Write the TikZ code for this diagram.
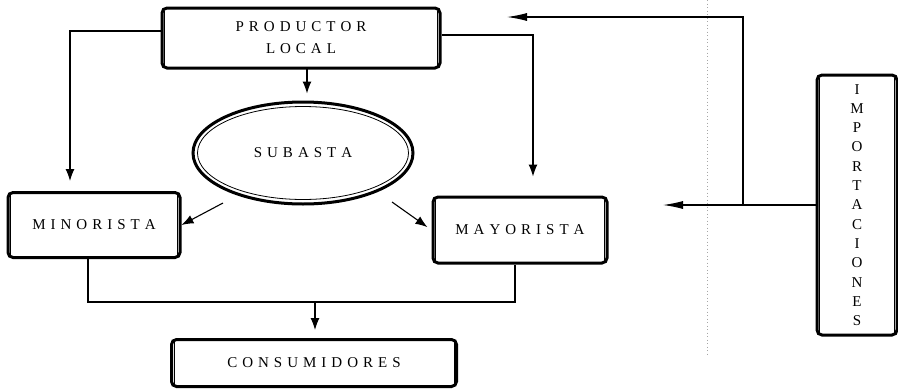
\documentclass[tikz,border=0pt]{standalone}
\usepackage{fontspec}
\setmainfont{Liberation Serif}
\usetikzlibrary{shapes.geometric,arrows.meta,calc}
\newlength\ltrsp \setlength\ltrsp{5pt}
\def\spaced#1{\spacedfirst#1\relax}
\def\spacedfirst#1{#1\spacedrest}
\def\spacedrest#1{\ifx#1\relax\else\kern\ltrsp#1\expandafter\spacedrest\fi}
\tikzset{
  boxnode/.style={draw, line width=3pt, rounded corners=5pt, inner sep=0pt,
    font=\fontsize{15}{22}\selectfont, align=center},
  conn/.style={line width=1.1pt},
  arr/.style={conn, -{Latex[length=12pt,width=9pt]}},
  longarr/.style={conn, -{Latex[length=20pt,width=8pt]}},
}
\begin{document}
\begin{tikzpicture}[x=1pt,y=-1pt]
\useasboundingbox (0,0) rectangle (898,389);
% dotted scan line
\draw[gray!70, line width=0.7pt, dash pattern=on 1pt off 2.5pt] (707,0) -- (707,355);
% nodes
\node[boxnode, minimum width=278pt, minimum height=60pt] (prod) at (301,38)
  {\spaced{PRODUCTOR}\\\spaced{LOCAL}};
\node[boxnode, minimum width=172pt, minimum height=65pt] (mino) at (94,225) {\spaced{MINORISTA}};
\node[boxnode, minimum width=174pt, minimum height=66pt] (mayo) at (520,230) {\spaced{MAYORISTA}};
\node[boxnode, minimum width=285pt, minimum height=47pt] (cons) at (314,363) {\spaced{CONSUMIDORES}};
\node[boxnode, minimum width=80pt, minimum height=260pt, font=\fontsize{15}{19.3}\selectfont] (imp) at (857,205)
  {I\\M\\P\\O\\R\\T\\A\\C\\I\\O\\N\\E\\S};
\node[draw, ellipse, line width=3pt, minimum width=220pt, minimum height=102pt, inner sep=0pt,
  font=\fontsize{15}{18}\selectfont] (sub) at (303,153) {\spaced{SUBASTA}};
% inner thin lines of double borders
\foreach \n in {prod,mino,mayo,cons,imp}{
  \draw[line width=0.8pt] ($(\n.north west)+(4,4)$) -- ($(\n.south west)+(4,-4)$);
  \draw[line width=0.8pt] ($(\n.north east)+(-4,4)$) -- ($(\n.south east)+(-4,-4)$);
}
\draw[line width=0.8pt] (sub.center) ellipse (105.5pt and 46.5pt);
% coordinates
\coordinate (pl) at (70,31);
\coordinate (pr) at (533,35);
\coordinate (pd) at (307,68);
\coordinate (s1) at (223,203);
\coordinate (s2) at (392,202);
\coordinate (bl) at (88,302);
\coordinate (br) at (515,302);
\coordinate (bm) at (315,302);
\coordinate (ij) at (743,205);
\coordinate (it) at (743,17);
\coordinate (ia) at (507,17);
\coordinate (ib) at (663,205);
% connectors
\draw[arr, shorten >=10pt] (prod.west |- pl) -- (pl) -- (mino.north -| pl);
\draw[arr, shorten >=19pt] (prod.east |- pr) -- (pr) -- (mayo.north -| pr);
\draw[arr, shorten >=7pt] (pd) -- (sub.north -| pd);
\draw[arr] (s1) -- (mino.east);
\draw[arr, shorten >=5pt] (s2) -- (mayo.west);
\draw[conn] (mino.south -| bl) -- (bl) -- (br) -- (mayo.south -| br);
\draw[arr, shorten >=8pt] (bm) -- (cons.north -| bm);
\draw[longarr] (imp.west) -- (ib);
\draw[longarr] (ij) -- (it) -- (ia);
\end{tikzpicture}
\end{document}
